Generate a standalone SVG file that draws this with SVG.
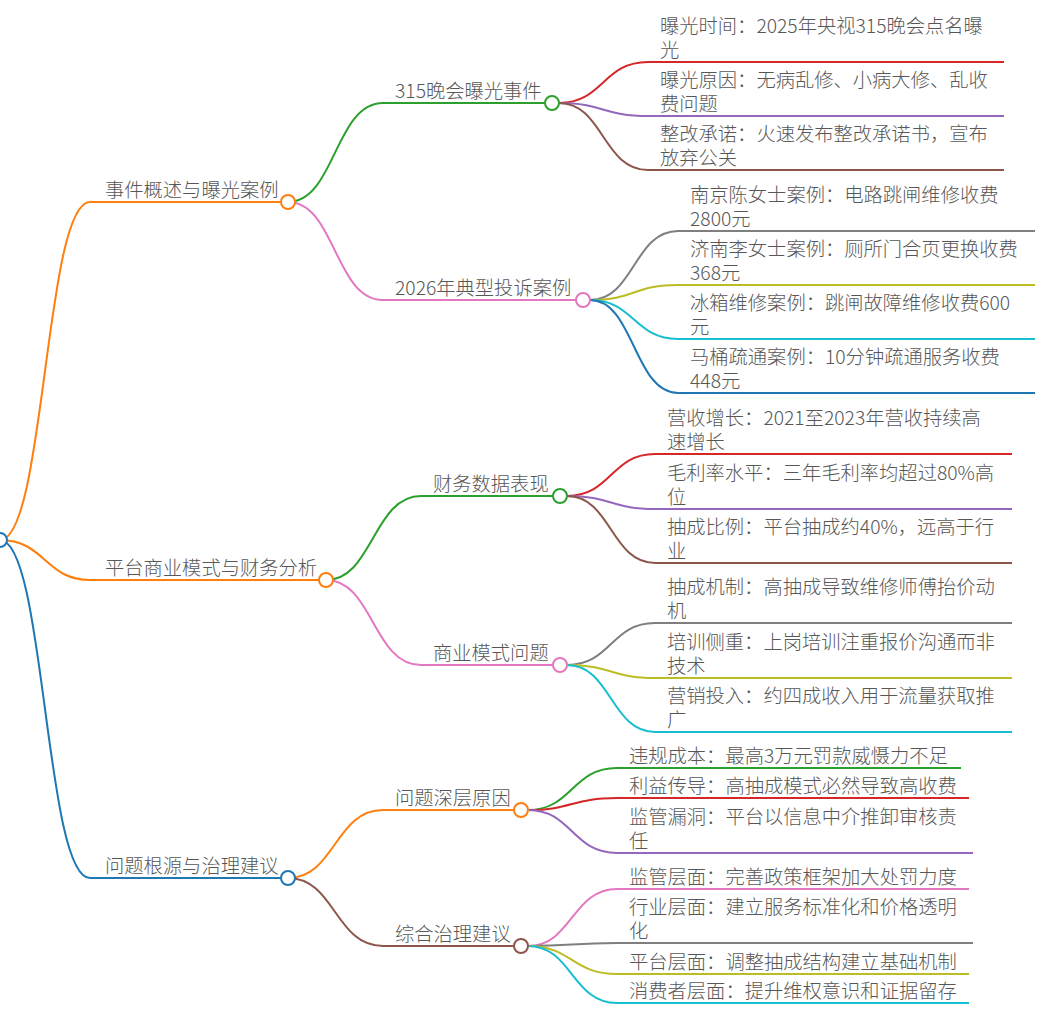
<svg xmlns="http://www.w3.org/2000/svg" width="1041" height="1019" viewBox="0 0 1041 1019">
<style>
text{font-family:"Noto Sans CJK SC","Noto Sans",sans-serif;font-size:19.3px;fill:#575757;font-weight:300}
.l{fill:none;stroke-width:2}
.c{fill:#fff;stroke-width:2}
</style>
<rect width="1041" height="1019" fill="#fff"/>
<g id="connectors">
<path class="l" stroke="#ff7f0e" d="M0 540C45 540 45 202 90 202H281"/>
<path class="l" stroke="#ff7f0e" d="M0 540C45 540 45 580 90 580H319"/>
<path class="l" stroke="#1f77b4" d="M0 540C45 540 45 878 90 878H281"/>
<path class="l" stroke="#2ca02c" d="M288 202C335 202 335 103 383 103H545"/>
<path class="l" stroke="#e377c2" d="M288 202C335 202 335 300 383 300H576"/>
<path class="l" stroke="#2ca02c" d="M326 580C373 580 373 496 421 496H553"/>
<path class="l" stroke="#e377c2" d="M326 580C373 580 373 665 421 665H553"/>
<path class="l" stroke="#ff7f0e" d="M288 878C335 878 335 810 383 810H514"/>
<path class="l" stroke="#8c564b" d="M288 878C335 878 335 946 383 946H514"/>
<path class="l" stroke="#d62728" d="M559 103C603 103 603 62 648 62H1004"/>
<path class="l" stroke="#9467bd" d="M559 103C603 103 603 116 648 116H1004"/>
<path class="l" stroke="#8c564b" d="M559 103C603 103 603 170 648 170H1004"/>
<path class="l" stroke="#7f7f7f" d="M590 300C634 300 634 231 678 231H1035"/>
<path class="l" stroke="#bcbd22" d="M590 300C634 300 634 285 678 285H1035"/>
<path class="l" stroke="#17becf" d="M590 300C634 300 634 339 678 339H1035"/>
<path class="l" stroke="#1f77b4" d="M590 300C634 300 634 393 678 393H1035"/>
<path class="l" stroke="#d62728" d="M567 496C611 496 611 454 655 454H1012"/>
<path class="l" stroke="#9467bd" d="M567 496C611 496 611 509 655 509H1012"/>
<path class="l" stroke="#8c564b" d="M567 496C611 496 611 563 655 563H1012"/>
<path class="l" stroke="#7f7f7f" d="M567 665C611 665 611 623 655 623H1012"/>
<path class="l" stroke="#bcbd22" d="M567 665C611 665 611 678 655 678H1012"/>
<path class="l" stroke="#17becf" d="M567 665C611 665 611 732 655 732H1012"/>
<path class="l" stroke="#2ca02c" d="M528 810C572 810 572 768 617 768H961"/>
<path class="l" stroke="#d62728" d="M528 810C572 810 572 798 617 798H969"/>
<path class="l" stroke="#9467bd" d="M528 810C572 810 572 853 617 853H973"/>
<path class="l" stroke="#e377c2" d="M528 946C572 946 572 889 617 889H969"/>
<path class="l" stroke="#7f7f7f" d="M528 946C572 946 572 943 617 943H973"/>
<path class="l" stroke="#bcbd22" d="M528 946C572 946 572 974 617 974H969"/>
<path class="l" stroke="#17becf" d="M528 946C572 946 572 1003 617 1003H969"/>
</g>
<g id="root"><circle class="c" stroke="#1f77b4" cx="0" cy="540" r="7"/></g>
<g id="n1"><text x="105" y="197">事件概述与曝光案例</text><circle class="c" stroke="#ff7f0e" cx="288" cy="202" r="7"/></g>
<g id="n2"><text x="105" y="575">平台商业模式与财务分析</text><circle class="c" stroke="#ff7f0e" cx="326" cy="580" r="7"/></g>
<g id="n3"><text x="105" y="873">问题根源与治理建议</text><circle class="c" stroke="#1f77b4" cx="288" cy="878" r="7"/></g>
<g id="n1a"><text x="395" y="98">315晚会曝光事件</text><circle class="c" stroke="#2ca02c" cx="552" cy="103" r="7"/></g>
<g id="n1b"><text x="395" y="295">2026年典型投诉案例</text><circle class="c" stroke="#e377c2" cx="583" cy="300" r="7"/></g>
<g id="n2a"><text x="433" y="491">财务数据表现</text><circle class="c" stroke="#2ca02c" cx="560" cy="496" r="7"/></g>
<g id="n2b"><text x="433" y="660">商业模式问题</text><circle class="c" stroke="#e377c2" cx="560" cy="665" r="7"/></g>
<g id="n3a"><text x="395" y="805">问题深层原因</text><circle class="c" stroke="#ff7f0e" cx="521" cy="810" r="7"/></g>
<g id="n3b"><text x="395" y="941">综合治理建议</text><circle class="c" stroke="#8c564b" cx="521" cy="946" r="7"/></g>
<g id="leaf1"><text x="660" y="33">曝光时间：2025年央视315晚会点名曝</text><text x="660" y="57">光</text></g>
<g id="leaf2"><text x="660" y="87">曝光原因：无病乱修、小病大修、乱收</text><text x="660" y="111">费问题</text></g>
<g id="leaf3"><text x="660" y="141">整改承诺：火速发布整改承诺书，宣布</text><text x="660" y="165">放弃公关</text></g>
<g id="leaf4"><text x="690" y="202">南京陈女士案例：电路跳闸维修收费</text><text x="690" y="226">2800元</text></g>
<g id="leaf5"><text x="690" y="256">济南李女士案例：厕所门合页更换收费</text><text x="690" y="280">368元</text></g>
<g id="leaf6"><text x="690" y="310">冰箱维修案例：跳闸故障维修收费600</text><text x="690" y="334">元</text></g>
<g id="leaf7"><text x="690" y="364">马桶疏通案例：10分钟疏通服务收费</text><text x="690" y="388">448元</text></g>
<g id="leaf8"><text x="667" y="425">营收增长：2021至2023年营收持续高</text><text x="667" y="449">速增长</text></g>
<g id="leaf9"><text x="667" y="480">毛利率水平：三年毛利率均超过80%高</text><text x="667" y="504">位</text></g>
<g id="leaf10"><text x="667" y="534">抽成比例：平台抽成约40%，远高于行</text><text x="667" y="558">业</text></g>
<g id="leaf11"><text x="667" y="594">抽成机制：高抽成导致维修师傅抬价动</text><text x="667" y="618">机</text></g>
<g id="leaf12"><text x="667" y="649">培训侧重：上岗培训注重报价沟通而非</text><text x="667" y="673">技术</text></g>
<g id="leaf13"><text x="667" y="703">营销投入：约四成收入用于流量获取推</text><text x="667" y="727">广</text></g>
<g id="leaf14"><text x="629" y="763">违规成本：最高3万元罚款威慑力不足</text></g>
<g id="leaf15"><text x="629" y="793">利益传导：高抽成模式必然导致高收费</text></g>
<g id="leaf16"><text x="629" y="824">监管漏洞：平台以信息中介推卸审核责</text><text x="629" y="848">任</text></g>
<g id="leaf17"><text x="629" y="884">监管层面：完善政策框架加大处罚力度</text></g>
<g id="leaf18"><text x="629" y="914">行业层面：建立服务标准化和价格透明</text><text x="629" y="938">化</text></g>
<g id="leaf19"><text x="629" y="969">平台层面：调整抽成结构建立基础机制</text></g>
<g id="leaf20"><text x="629" y="998">消费者层面：提升维权意识和证据留存</text></g>
</svg>
